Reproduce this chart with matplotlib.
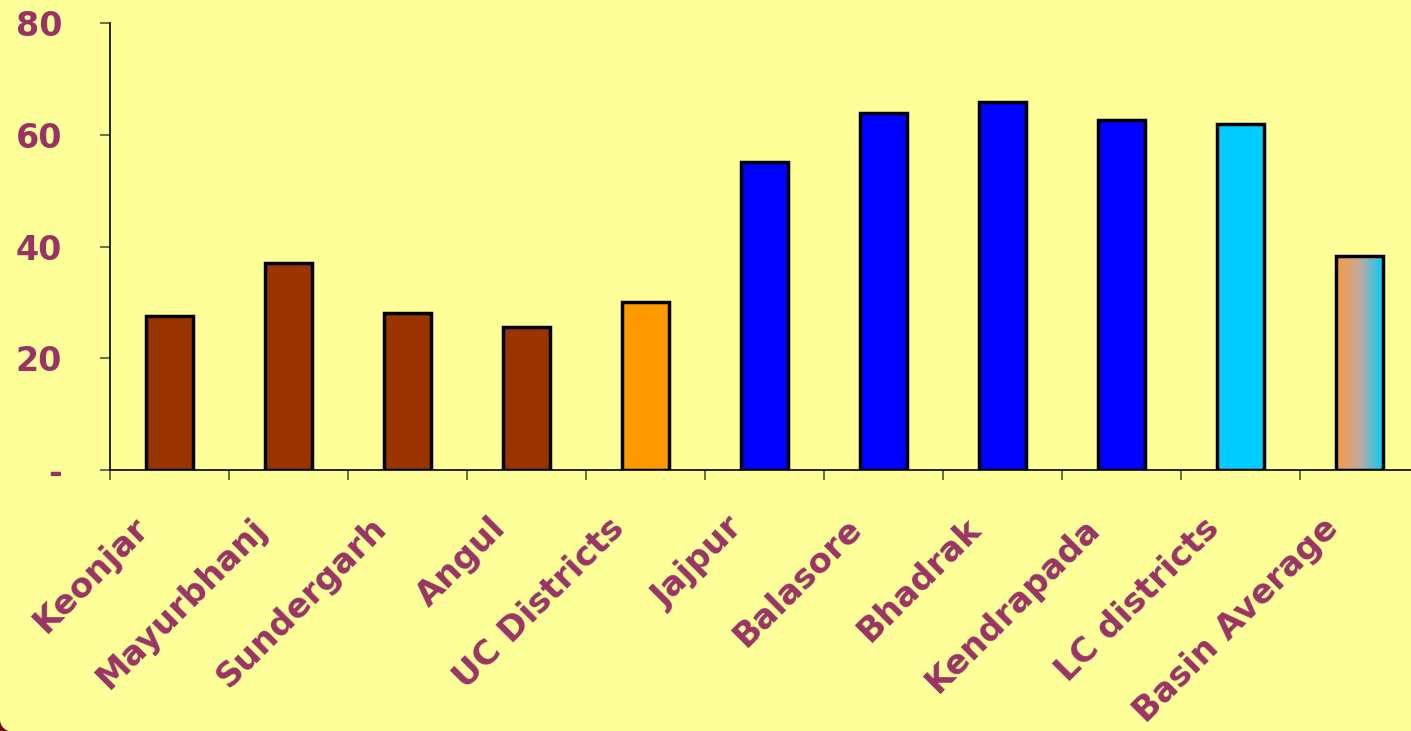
import matplotlib
matplotlib.use("Agg")
import matplotlib.pyplot as plt
import numpy as np
from matplotlib.patches import Rectangle, Circle
from matplotlib.transforms import IdentityTransform
from matplotlib.colors import LinearSegmentedColormap

categories = ["Keonjar", "Mayurbhanj", "Sundergarh", "Angul", "UC Districts",
              "Jajpur", "Balasore", "Bhadrak", "Kendrapada", "LC districts",
              "Basin Average"]
values = [27.6, 37.0, 28.1, 25.6, 30.1, 55.1, 63.9, 65.9, 62.6, 61.9, 38.3]
bar_colors = ["#993300", "#993300", "#993300", "#993300", "#FF9900",
              "#0000FF", "#0000FF", "#0000FF", "#0000FF", "#00CCFF", None]
y_ticks = [0, 20, 40, 60, 80]
y_tick_labels = ["-", "20", "40", "60", "80"]

TEXT = "#993366"
BG = "#FFFF99"
W, H = 1411, 731

fig = plt.figure(figsize=(W / 100, H / 100), dpi=100, facecolor=BG)

# dark frame peeking out at the rounded lower-left corner of the slide panel
r = 12
fig.patches.append(Rectangle((0, 0), r, r, transform=IdentityTransform(),
                             facecolor="#7A0000", edgecolor="none", zorder=-10))
fig.patches.append(Circle((r, r - 0.5), r, transform=IdentityTransform(),
                          facecolor=BG, edgecolor="none", zorder=-9))

ax = fig.add_axes([110 / W, (H - 470) / H, (W - 110) / W, 447 / H])
ax.set_facecolor("none")
ax.set_zorder(5)

x = np.arange(len(categories))
bars = ax.bar(x, values, width=0.4, color=[c if c else "none" for c in bar_colors],
              edgecolor="black", linewidth=2.5, zorder=3)

# gradient fill for the basin average bar
grad = LinearSegmentedColormap.from_list("g", ["#F89A3E", "#C4AAA0", "#00CCFF"])
b = bars[-1]
bx, bw, bh = b.get_x(), b.get_width(), b.get_height()
im = ax.imshow(np.linspace(0, 1, 256).reshape(1, -1), cmap=grad, aspect="auto",
               extent=[bx, bx + bw, 0, bh], zorder=2, interpolation="bilinear")
im.set_clip_path(b)

ax.set_xlim(-0.5, -0.5 + 1301 / 119)
ax.set_ylim(0, 80)

for s in ["top", "right"]:
    ax.spines[s].set_visible(False)
for s in ["left", "bottom"]:
    ax.spines[s].set_color("black")
    ax.spines[s].set_linewidth(1.2)

ax.set_yticks(y_ticks)
ax.set_yticklabels(y_tick_labels)
ax.tick_params(axis="y", direction="out", length=7.5, width=1.2, color="#555533",
               pad=27, labelsize=24, labelcolor=TEXT)
for t in ax.get_yticklabels():
    t.set_fontweight("bold")

ax.set_xticks(x)
ax.set_xticklabels([])
ax.tick_params(axis="x", which="major", length=0)
ax.set_xticks(np.arange(-0.5, len(categories) - 0.5, 1), minor=True)
ax.tick_params(axis="x", which="minor", direction="out", length=7.5, width=1.2,
               color="#555533")

for xi, name in zip(x, categories):
    ax.text(xi - 0.22, -9.5, name, rotation=45, ha="right", va="center",
            rotation_mode="anchor", fontsize=24.5, fontweight="bold", color=TEXT,
            clip_on=False)

fig.savefig("out.png", dpi=100, facecolor=fig.get_facecolor())
